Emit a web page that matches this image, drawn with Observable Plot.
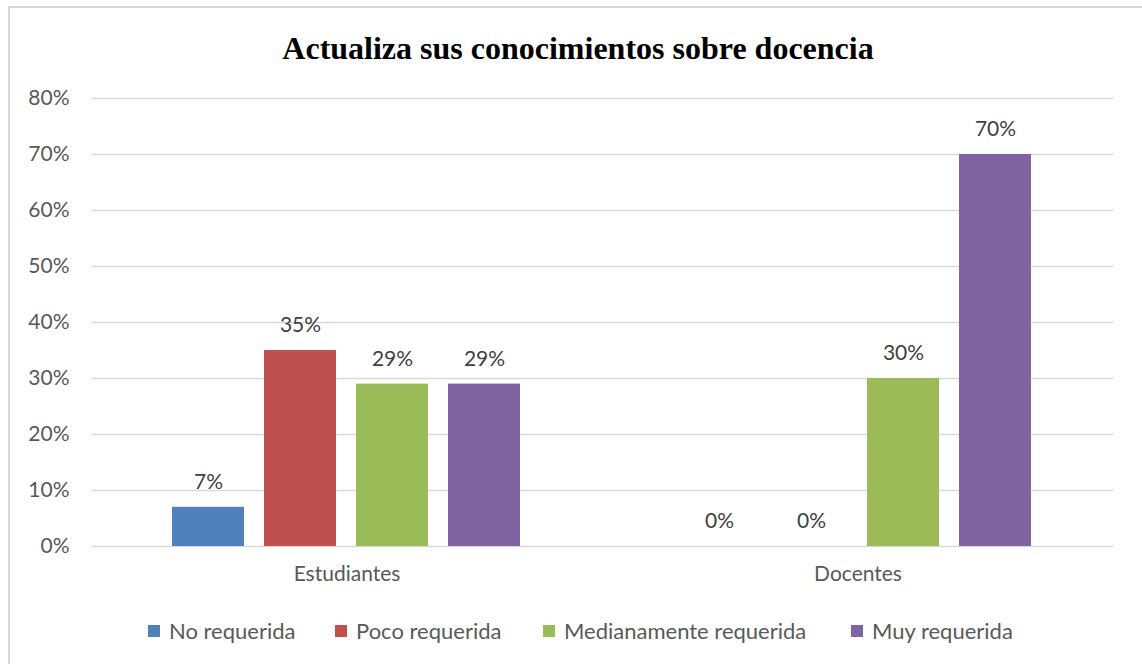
<!DOCTYPE html>
<html>
<head>
<meta charset="utf-8">
<script src="https://cdn.jsdelivr.net/npm/d3@7"></script>
<script src="https://cdn.jsdelivr.net/npm/@observablehq/plot@0.6"></script>
<style>
  html, body { margin: 0; padding: 0; background: #fff; }
  #wrap { position: relative; width: 1142px; height: 664px; overflow: hidden; }
  #frame { position: absolute; left: 8px; top: 6px; width: 1150px; height: 700px; border: 2px solid #d9d9d9; box-sizing: border-box; }
  #title { position: absolute; left: 0; top: 29px; width: 1156px; text-align: center; font-family: "Liberation Serif", "Times New Roman", serif; font-weight: bold; font-size: 32px; line-height: 38px; color: #000; }
  #chart { position: absolute; left: 0; top: 0; }
  #legend { position: absolute; left: 0; top: 617px; width: 1142px; height: 30px; font-family: Lato, "Open Sans", sans-serif; font-size: 22px; color: #595959; }
  .item { position: absolute; top: 0; display: flex; align-items: center; gap: 9px; white-space: nowrap; line-height: 28px; }
  .sw { width: 12px; height: 12px; display: inline-block; }
</style>
</head>
<body>
<div id="wrap">
  <div id="frame"></div>
  <div id="chart"></div>
  <div id="title">Actualiza sus conocimientos sobre docencia</div>
  <div id="legend"></div>
</div>
<script>
const groups = ["Estudiantes", "Docentes"];
const series = ["No requerida", "Poco requerida", "Medianamente requerida", "Muy requerida"];
const estudiantes = [7, 35, 29, 29];
const docentes = [0, 0, 30, 70];
const yTicks = [0, 10, 20, 30, 40, 50, 60, 70, 80];
const colors = ["#4f81bd", "#c0504d", "#9bbb59", "#8064a2"];

const values = [estudiantes, docentes];
const data = groups.flatMap((g, i) => series.map((s, j) => ({group: g, series: s, value: values[i][j]})));

const font = 'Lato, "Open Sans", sans-serif';

const chart = Plot.plot({
  width: 1142,
  height: 664,
  marginLeft: 90,
  marginRight: 29,
  marginTop: 98,
  marginBottom: 118,
  style: {fontFamily: font, fontSize: "21px", color: "#595959", background: "transparent"},
  fx: {domain: groups, padding: 0, label: null, axis: "bottom", tickSize: 0, tickPadding: 20},
  x: {domain: series, paddingInner: 0.215, paddingOuter: 0.857, axis: null},
  y: {domain: [0, 80], axis: null},
  color: {domain: series, range: colors},
  marks: [
    Plot.gridY(yTicks, {stroke: "#d9d9d9", strokeOpacity: 1, strokeWidth: 1.5}),
    Plot.axisY(yTicks, {tickSize: 0, tickPadding: 22, tickFormat: d => d + "%", fill: "#595959", label: null}),
    Plot.barY(data, {fx: "group", x: "series", y: "value", fill: "series"}),
    Plot.text(data, {fx: "group", x: "series", y: "value", text: d => d.value + "%", dy: -25, fill: "#404040", fontSize: 21})
  ]
});
document.getElementById("chart").appendChild(chart);

const legendX = [148, 335, 543, 851];
const legend = document.getElementById("legend");
series.forEach((s, i) => {
  const it = document.createElement("div");
  it.className = "item";
  it.style.left = legendX[i] + "px";
  const sw = document.createElement("span");
  sw.className = "sw";
  sw.style.background = colors[i];
  const t = document.createElement("span");
  t.textContent = s;
  it.appendChild(sw);
  it.appendChild(t);
  legend.appendChild(it);
});
</script>
</body>
</html>
